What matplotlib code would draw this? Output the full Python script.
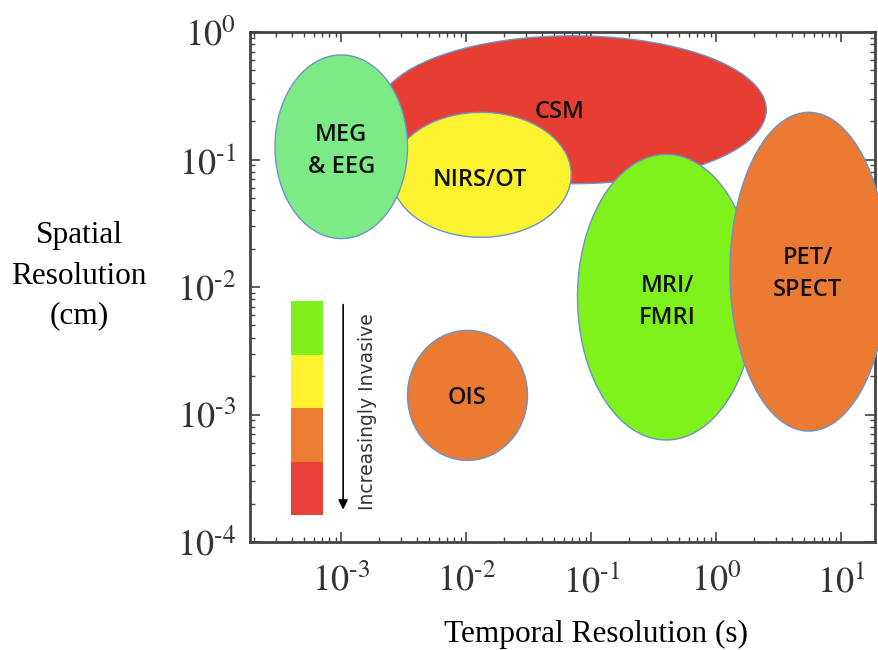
import numpy as np
import matplotlib
matplotlib.use("Agg")
import matplotlib.pyplot as plt
from matplotlib.patches import Rectangle
from matplotlib.ticker import LogLocator, FixedLocator, FixedFormatter

# --- data: ellipses in log10 decades (center x, center y, half-width, half-height) ---
names = ["CSM", "MRI/\nFMRI", "PET/\nSPECT", "NIRS/OT", "MEG\n& EEG", "OIS"]
center_x = [-1.15, -0.40, 0.74, -1.88, -3.00, -1.99]
center_y = [-0.61, -2.08, -1.88, -1.12, -0.90, -2.85]
radius_x = [1.55, 0.71, 0.63, 0.72, 0.53, 0.48]
radius_y = [0.58, 1.12, 1.25, 0.49, 0.72, 0.51]
colors = ["#E63E33", "#7FF11B", "#EB7A33", "#FDF22F", "#7DEB85", "#EB7A33"]
label_x = [-1.25, -0.39, 0.73, -1.89, -3.00, -1.99]
label_y = [-0.63, -2.12, -1.90, -1.16, -0.93, -2.87]

legend_colors = ["#80F01C", "#FFF22E", "#EB7D33", "#E8403A"]

tick_exps = [-3, -2, -1, 0, 1]
ytick_exps = [-4, -3, -2, -1, 0]

plt.rcParams["font.family"] = ["Liberation Serif", "DejaVu Serif"]
plt.rcParams["mathtext.fontset"] = "stix"
plt.rcParams["axes.unicode_minus"] = False

fig = plt.figure(figsize=(8.79, 6.5), dpi=100)
ax = fig.add_axes([250 / 879, 108 / 650, 625 / 879, 510 / 650])
ax.set_xscale("log")
ax.set_yscale("log")
ax.set_xlim(10 ** -3.73, 10 ** 1.27)
ax.set_ylim(1e-4, 1)

# --- ellipses drawn in log space ---
t = np.linspace(0, 2 * np.pi, 400)
for i in range(len(names)):
    xs = 10 ** (center_x[i] + radius_x[i] * np.cos(t))
    ys = 10 ** (center_y[i] + radius_y[i] * np.sin(t))
    ax.fill(xs, ys, facecolor=colors[i], edgecolor="#6D93C8", linewidth=1.0,
            zorder=3 + i, clip_on=False)
    ax.text(10 ** label_x[i], 10 ** label_y[i], names[i], ha="center", va="center",
            fontsize=17, family=["Open Sans", "DejaVu Sans"], color="#111111",
            weight="semibold", linespacing=1.45, zorder=20)

# --- invasiveness legend bar ---
bar_top = 0.4725
bar_h = 0.105
for k, c in enumerate(legend_colors):
    ax.add_patch(Rectangle((0.0656, bar_top - (k + 1) * bar_h), 0.0512, bar_h,
                           transform=ax.transAxes, facecolor=c, edgecolor="none", zorder=2))
ax.annotate("", xy=(0.149, 0.058), xytext=(0.149, 0.471), xycoords="axes fraction",
            arrowprops=dict(arrowstyle="-|>", color="black", lw=1.2, mutation_scale=14))
ax.text(0.188, 0.255, "Increasingly Invasive", transform=ax.transAxes, rotation=90,
        ha="center", va="center", fontsize=13.5, family=["DejaVu Sans"],
        color="#333333")

# --- ticks ---
ax.xaxis.set_major_locator(FixedLocator([10.0 ** e for e in tick_exps]))
ax.xaxis.set_major_formatter(FixedFormatter([r"$10^{\text{%d}}$" % e for e in tick_exps]))
ax.yaxis.set_major_locator(FixedLocator([10.0 ** e for e in ytick_exps]))
ax.yaxis.set_major_formatter(FixedFormatter([r"$10^{\text{%d}}$" % e for e in ytick_exps]))
ax.xaxis.set_minor_locator(LogLocator(base=10, subs=np.arange(2, 10), numticks=20))
ax.yaxis.set_minor_locator(LogLocator(base=10, subs=np.arange(2, 10), numticks=20))
ax.tick_params(which="both", direction="in", top=True, right=True, color="#444444")
ax.tick_params(which="major", length=7, width=1.2, labelsize=26, labelcolor="#333333")
ax.tick_params(axis="x", which="major", pad=16)
ax.tick_params(axis="y", which="major", pad=10)
ax.tick_params(which="minor", length=3.5, width=1.0)
for s in ax.spines.values():
    s.set_color("#444444")
    s.set_linewidth(2)

fig.text(596 / 879, 1 - 634 / 650, "Temporal Resolution (s)", ha="center", va="center",
         fontsize=22.5)
fig.text(79 / 879, 1 - 276 / 650, "Spatial\nResolution\n(cm)", ha="center", va="center",
         fontsize=22.5, linespacing=1.5)

fig.savefig("out.png", dpi=100)
